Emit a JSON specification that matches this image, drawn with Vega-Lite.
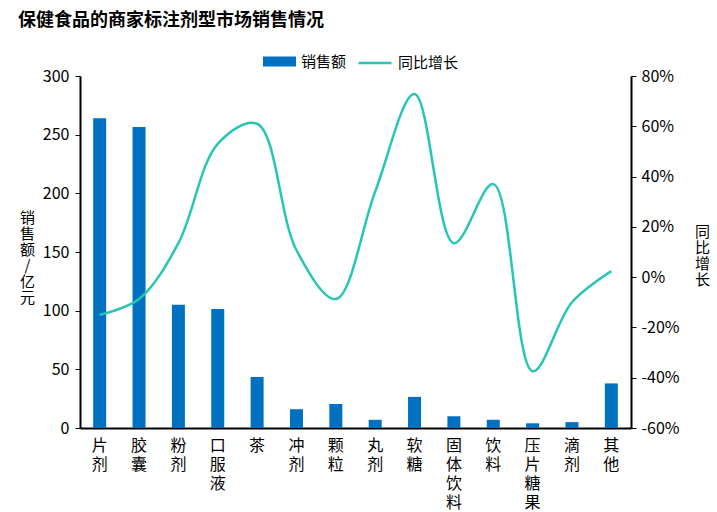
{
  "$schema": "https://vega.github.io/schema/vega-lite/v6.json",
  "width": 551,
  "height": 352,
  "autosize": {"type": "none"},
  "padding": {"left": 80, "top": 76, "right": 86, "bottom": 84},
  "background": "white",
  "config": {
    "font": "Noto Sans CJK SC",
    "view": {"stroke": null},
    "axis": {"labelFont": "Noto Sans CJK SC", "titleFont": "Noto Sans CJK SC", "labelColor": "black", "titleColor": "black", "domainColor": "black", "tickColor": "black", "grid": false}
  },
  "title": {
    "text": "保健食品的商家标注剂型市场销售情况",
    "anchor": "start",
    "frame": "group",
    "dx": -62,
    "dy": -11,
    "fontSize": 18,
    "fontWeight": "bold",
    "color": "black",
    "font": "Noto Sans CJK SC"
  },
  "data": {
    "values": [
      {"type": "片剂", "sales": 264, "growth": -0.15},
      {"type": "胶囊", "sales": 256.5, "growth": -0.087},
      {"type": "粉剂", "sales": 105, "growth": 0.135},
      {"type": "口服液", "sales": 101.5, "growth": 0.53},
      {"type": "茶", "sales": 43.5, "growth": 0.61},
      {"type": "冲剂", "sales": 16, "growth": 0.107},
      {"type": "颗粒", "sales": 20.5, "growth": -0.087},
      {"type": "丸剂", "sales": 7, "growth": 0.34},
      {"type": "软糖", "sales": 26.5, "growth": 0.728},
      {"type": "固体饮料", "sales": 10, "growth": 0.135},
      {"type": "饮料", "sales": 7, "growth": 0.37},
      {"type": "压片糖果", "sales": 4, "growth": -0.374},
      {"type": "滴剂", "sales": 5, "growth": -0.1},
      {"type": "其他", "sales": 38, "growth": 0.024}
    ]
  },
  "encoding": {
    "x": {
      "field": "type",
      "type": "nominal",
      "sort": null,
      "axis": {
        "title": null,
        "labelAngle": 0,
        "labelExpr": "split(datum.label, '')",
        "labelFontSize": 16,
        "labelLineHeight": 19,
        "labelBaseline": "top",
        "labelPadding": 9,
        "ticks": false,
        "domainWidth": 2
      }
    }
  },
  "layer": [
    {
      "mark": {"type": "bar", "width": 13, "color": "#0070C0"},
      "encoding": {
        "y": {
          "field": "sales",
          "type": "quantitative",
          "scale": {"domain": [0, 300], "nice": false},
          "axis": {
            "values": [0, 50, 100, 150, 200, 250, 300],
            "title": ["销", "售", "额", "/", "亿", "元"],
            "titleAngle": 0,
            "titleX": -53,
            "titleY": 134,
            "titleAlign": "center",
            "titleBaseline": "top",
            "titleFontSize": 15,
            "titleFontWeight": "normal",
            "titleLineHeight": 16,
            "labelFontSize": 16,
            "labelPadding": 6,
            "tickSize": 5,
            "domainWidth": 2
          }
        },
        "color": {
          "datum": "销售额",
          "scale": {"range": ["#0070C0"]},
          "legend": {
            "orient": "none",
            "legendX": 183,
            "legendY": -31,
            "title": null,
            "symbolType": "M-1,-0.3H1V0.3H-1Z",
            "symbolSize": 1089,
            "symbolStrokeWidth": 0,
            "labelFontSize": 15,
            "labelColor": "black",
            "labelOffset": 5,
            "labelFont": "Noto Sans CJK SC"
          }
        }
      }
    },
    {
      "mark": {"type": "line", "interpolate": "catmull-rom", "strokeWidth": 2.5, "color": "#26C6B4"},
      "encoding": {
        "y": {
          "field": "growth",
          "type": "quantitative",
          "scale": {"domain": [-0.6, 0.8], "nice": false},
          "axis": {
            "orient": "right",
            "values": [-0.6, -0.4, -0.2, 0, 0.2, 0.4, 0.6, 0.8],
            "labelExpr": "round(datum.value*100) + '%'",
            "title": ["同", "比", "增", "长"],
            "titleAngle": 0,
            "titleX": 71,
            "titleY": 148,
            "titleAlign": "center",
            "titleBaseline": "top",
            "titleFontSize": 15,
            "titleFontWeight": "normal",
            "titleLineHeight": 16,
            "labelFontSize": 16,
            "labelPadding": 5,
            "tickSize": 5,
            "domainWidth": 2
          }
        },
        "color": {
          "datum": "同比增长",
          "scale": {"range": ["#26C6B4"]},
          "legend": {
            "orient": "none",
            "legendX": 277,
            "legendY": -31,
            "title": null,
            "symbolType": "stroke",
            "symbolSize": 1089,
            "symbolStrokeWidth": 2.5,
            "labelFontSize": 15,
            "labelColor": "black",
            "labelOffset": 5,
            "labelFont": "Noto Sans CJK SC"
          }
        }
      }
    }
  ],
  "resolve": {"scale": {"y": "independent", "color": "independent"}}
}
